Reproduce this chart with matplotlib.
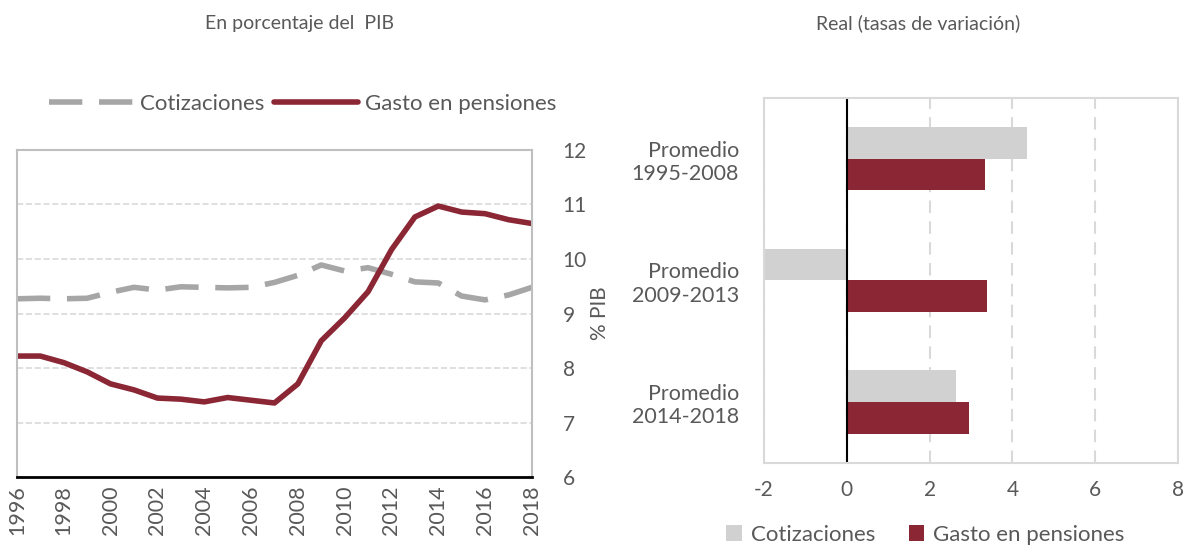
import matplotlib.pyplot as plt
import numpy as np

# Datos
years = list(range(1996, 2019))
cotizaciones = [9.27, 9.28, 9.27, 9.28, 9.39, 9.48, 9.43, 9.49, 9.48, 9.47, 9.48, 9.57,
                9.70, 9.89, 9.78, 9.84, 9.72, 9.58, 9.56, 9.32, 9.25, 9.34, 9.48]
gasto = [8.22, 8.22, 8.10, 7.93, 7.71, 7.60, 7.45, 7.43, 7.38, 7.46, 7.41, 7.36,
         7.71, 8.50, 8.92, 9.40, 10.17, 10.77, 10.97, 10.86, 10.83, 10.72, 10.65]

periodos = ['Promedio\n1995-2008', 'Promedio\n2009-2013', 'Promedio\n2014-2018']
real_cotizaciones = [4.35, -2.0, 2.63]
real_gasto = [3.33, 3.38, 2.95]

rojo = '#8B2634'
gris = '#A6A6A6'
gris_claro = '#D0D1D0'
texto = '#595959'

plt.rcParams['font.family'] = ['Lato', 'DejaVu Sans']
plt.rcParams['text.color'] = texto
plt.rcParams['axes.unicode_minus'] = False

fig = plt.figure(figsize=(11.85, 5.51), dpi=100)

# Panel izquierdo
ax1 = fig.add_axes([0.0143, 0.134, 0.4346, 0.594])
ax1.plot(years, cotizaciones, color=gris, lw=4, dashes=(6, 3), label='Cotizaciones')
ax1.plot(years, gasto, color=rojo, lw=4, solid_capstyle='round', label='Gasto en pensiones')
ax1.set_xlim(1996, 2018)
ax1.set_ylim(6, 12)
ax1.set_xticks(range(1996, 2019, 2))
ax1.tick_params(axis='x', rotation=90, labelsize=15.5, colors=texto, length=0, pad=6)
ax1.yaxis.tick_right()
ax1.yaxis.set_label_position('right')
ax1.tick_params(axis='y', labelsize=15, colors=texto, length=0, pad=22)
ax1.set_ylabel('% PIB', fontsize=15, color=texto, labelpad=2)
ax1.set_yticks(range(6, 13))
ax1.grid(axis='y', color='#D9D9D9', ls='--', lw=1.2)
for s in ['top', 'left', 'right']:
    ax1.spines[s].set_color('#BFBFBF')
    ax1.spines[s].set_linewidth(1.5)
ax1.spines['bottom'].set_color('black')
ax1.spines['bottom'].set_linewidth(2)
ax1.legend(loc='lower center', bbox_to_anchor=(0.555, 1.05), ncol=2, frameon=False,
           fontsize=16, handlelength=3.8, columnspacing=0.4, handletextpad=0.3,
           labelcolor=texto)
fig.text(0.253, 0.958, 'En porcentaje del  PIB', ha='center', va='center', fontsize=14)

# Panel derecho
ax2 = fig.add_axes([0.6447, 0.160, 0.3494, 0.662])
y = np.arange(len(periodos))
h = 0.26
ax2.barh(y - h / 2, real_cotizaciones, height=h, color=gris_claro, label='Cotizaciones')
ax2.barh(y + h / 2, real_gasto, height=h, color=rojo, label='Gasto en pensiones')
ax2.set_xlim(-2, 8)
ax2.set_ylim(2.5, -0.5)
ax2.set_yticks(y)
ax2.set_yticklabels(periodos, fontsize=15.5, color=texto)
ax2.tick_params(axis='y', length=0, pad=18)
ax2.set_xticks(range(-2, 9, 2))
ax2.tick_params(axis='x', labelsize=15, colors=texto, length=0, pad=12)
ax2.grid(axis='x', color='#D9D9D9', ls=(0, (6, 4)), lw=1.5)
ax2.set_axisbelow(True)
ax2.axvline(0, color='black', lw=1.5)
for s in ax2.spines.values():
    s.set_color('#D9D9D9')
    s.set_linewidth(1.5)
ax2.legend(loc='upper center', bbox_to_anchor=(0.39, -0.115), ncol=2, frameon=False,
           fontsize=16, handlelength=0.7, handleheight=0.7, columnspacing=1.5,
           handletextpad=0.4, labelcolor=texto)
fig.text(0.775, 0.958, 'Real (tasas de variación)', ha='center', va='center', fontsize=14)

fig.savefig('out.png', dpi=100)
